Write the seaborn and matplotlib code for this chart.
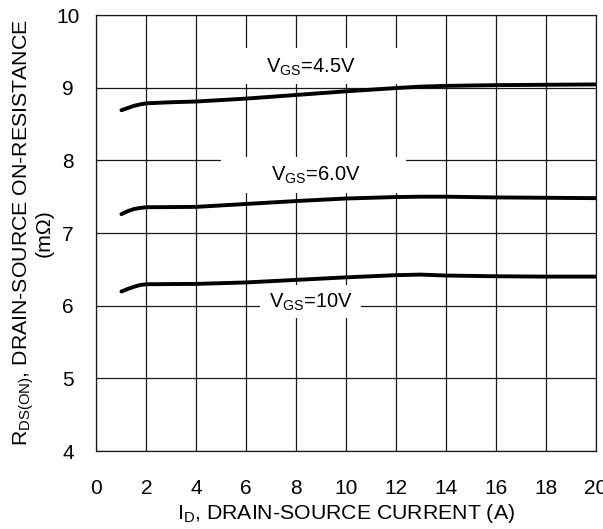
import numpy as np
import pandas as pd
import matplotlib
matplotlib.use('Agg')
import matplotlib.pyplot as plt
import seaborn as sns
from matplotlib.patches import Rectangle

# data
current = [1, 1.25, 1.5, 1.75, 2, 3, 4, 6, 8, 10, 12, 13, 14, 16, 18, 20]
rds_45 = [8.69, 8.72, 8.75, 8.77, 8.785, 8.80, 8.81, 8.85, 8.90, 8.95, 8.995, 9.015, 9.025, 9.035, 9.04, 9.045]
rds_60 = [7.26, 7.30, 7.33, 7.345, 7.355, 7.357, 7.36, 7.40, 7.44, 7.475, 7.495, 7.50, 7.50, 7.49, 7.485, 7.48]
rds_10 = [6.195, 6.23, 6.26, 6.285, 6.295, 6.298, 6.30, 6.32, 6.355, 6.39, 6.42, 6.428, 6.415, 6.405, 6.40, 6.40]
series = ['4.5V', '6.0V', '10V']
label_x = [8.6, 8.8, 8.6]
label_y = [9.28, 7.80, 6.04]
# white masks behind labels (x0, x1, y0, y1)
mask_boxes = [(5.0, 12.4, 9.05, 9.55), (5.0, 12.4, 7.55, 8.05), (6.55, 10.6, 5.83, 6.29)]

df = pd.DataFrame({
    'I_D': current * 3,
    'R': rds_45 + rds_60 + rds_10,
    'vgs': sum([[s] * len(current) for s in series], []),
})

sns.set_style('white')
plt.rcParams['font.family'] = ['Liberation Sans', 'DejaVu Sans']
plt.rcParams['mathtext.default'] = 'regular'
plt.rcParams['text.color'] = 'black'
plt.rcParams['axes.labelcolor'] = 'black'
plt.rcParams['xtick.color'] = 'black'
plt.rcParams['ytick.color'] = 'black'

fig = plt.figure(figsize=(6.03, 5.29), dpi=100)
ax = fig.add_axes([0.16, 0.1474, 0.8276, 0.8242])

sns.lineplot(data=df, x='I_D', y='R', hue='vgs', palette=['black'] * 3,
             linewidth=2.8, legend=False, ax=ax, zorder=5)

ax.set_xlim(0, 20)
ax.set_ylim(4, 10)
ax.set_xticks(np.arange(0, 21, 2))
ax.set_yticks(np.arange(4, 11, 1))
ax.grid(True, color='#1a1a1a', linewidth=0.9)
ax.set_axisbelow(True)
for sp in ax.spines.values():
    sp.set_color('#1a1a1a')
    sp.set_linewidth(0.9)
ax.tick_params(axis='both', length=0, labelsize=15, labelcolor='black')
ax.tick_params(axis='x', pad=20)
ax.tick_params(axis='y', pad=20.5)
for t in ax.get_yticklabels():
    t.set_horizontalalignment('center')

for (x0, x1, y0, y1) in mask_boxes:
    ax.add_patch(Rectangle((x0, y0), x1 - x0, y1 - y0, facecolor='white',
                           edgecolor='none', zorder=3))
for s, lx, ly in zip(series, label_x, label_y):
    ax.text(lx, ly, r'$V_{GS}$=' + s, fontsize=14.5, ha='center', va='center',
            color='black', zorder=6)

ax.set_xlabel(r'$I_D$, DRAIN-SOURCE CURRENT (A)', fontsize=15.3, labelpad=3)
ax.set_ylabel('$R_{DS(ON)}$, DRAIN-SOURCE ON-RESISTANCE\n(m\u03a9)', fontsize=15.3,
              linespacing=0.9, labelpad=2)

fig.savefig('out.png', dpi=100)
